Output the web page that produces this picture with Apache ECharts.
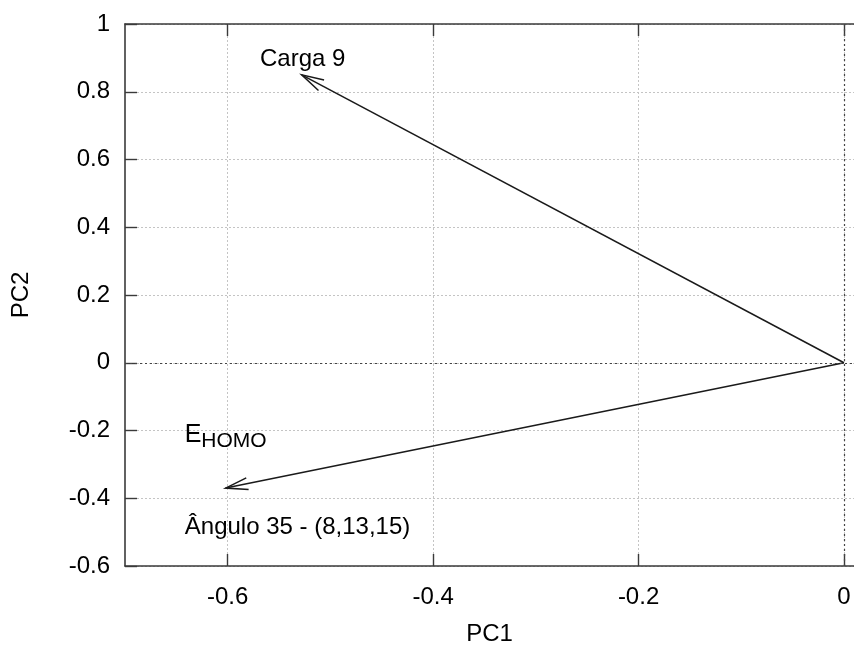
<!DOCTYPE html>
<html>
<head>
<meta charset="utf-8">
<script src="https://cdn.jsdelivr.net/npm/echarts@6/dist/echarts.min.js"></script>
<style>
  html, body { margin: 0; padding: 0; background: #fff; }
  #main { width: 854px; height: 651px; }
</style>
</head>
<body>
<div id="main"></div>
<script>
// loading vectors, drawn from the origin
var origin = [0, 0];
var vecNames = ['Carga 9', 'Ângulo 35 - (8,13,15)'];
var pc1 = [-0.528, -0.602];
var pc2 = [0.85, -0.37];

// text labels placed in data coordinates
var labelTexts = ['Carga 9', '{e|E}{sub|HOMO}', 'Ângulo 35 - (8,13,15)'];
var labelX = [-0.527, -0.602, -0.532];
var labelY = [0.897, -0.215, -0.485];

var xTicks = [-0.6, -0.4, -0.2, 0];
var font = "'Liberation Sans', Arial, sans-serif";

var myChart = echarts.init(document.getElementById('main'));

var vecData = pc1.map(function (x, i) {
    return { name: vecNames[i], value: [x, pc2[i]] };
});
var labelData = labelTexts.map(function (t, i) {
    return { name: t, value: [labelX[i], labelY[i]] };
});

var gridLine = { show: true, lineStyle: { color: '#c4c4c4', type: [2, 2], width: 1 } };
var axisLine = { show: true, onZero: false, lineStyle: { color: '#3a3a3a', width: 1.6 } };

option = {
    backgroundColor: '#fff',
    animation: false,
    grid: { left: 125, right: 0, top: 24, bottom: 84 },
    xAxis: [{
        type: 'value',
        min: -0.7,
        max: 10 / 1025,
        position: 'bottom',
        name: 'PC1',
        nameLocation: 'middle',
        nameGap: 56,
        nameTextStyle: { fontFamily: font, fontSize: 24, color: '#000' },
        axisLine: axisLine,
        axisTick: { show: true, inside: true, length: 12, customValues: xTicks,
            lineStyle: { color: '#3a3a3a', width: 1.4 } },
        axisLabel: { customValues: xTicks, margin: 19, fontFamily: font, fontSize: 24, color: '#000',
            formatter: function (v) { return String(Math.round(v * 10) / 10); } },
        splitLine: gridLine
    }, {
        type: 'value',
        min: -0.7,
        max: 10 / 1025,
        position: 'top',
        axisLine: axisLine,
        axisTick: { show: true, inside: true, length: 12, customValues: xTicks,
            lineStyle: { color: '#3a3a3a', width: 1.4 } },
        axisLabel: { show: false },
        splitLine: { show: false }
    }],
    yAxis: {
        type: 'value',
        min: -0.6,
        max: 1,
        interval: 0.2,
        name: 'PC2',
        nameLocation: 'middle',
        nameGap: 92,
        nameTextStyle: { fontFamily: font, fontSize: 24, color: '#000' },
        axisLine: axisLine,
        axisTick: { show: true, inside: true, length: 12, lineStyle: { color: '#3a3a3a', width: 1.4 } },
        axisLabel: { margin: 15, fontFamily: font, fontSize: 24, color: '#000',
            formatter: function (v) { return String(Math.round(v * 10) / 10); } },
        splitLine: gridLine
    },
    series: [{
        type: 'custom',
        name: 'loadings',
        xAxisIndex: 0,
        data: vecData,
        silent: true,
        markLine: {
            silent: true,
            symbol: 'none',
            label: { show: false },
            lineStyle: { color: '#444', type: [2, 3], width: 1.2 },
            data: [{ yAxis: 0 }, { xAxis: 0 }]
        },
        renderItem: function (params, api) {
            var p0 = api.coord(origin);
            var p1 = api.coord([api.value(0), api.value(1)]);
            var ang = Math.atan2(p0[1] - p1[1], p0[0] - p1[0]);
            var len = 23, half = 15 * Math.PI / 180;
            var a1 = [p1[0] + len * Math.cos(ang - half), p1[1] + len * Math.sin(ang - half)];
            var a2 = [p1[0] + len * Math.cos(ang + half), p1[1] + len * Math.sin(ang + half)];
            var style = { stroke: '#1a1a1a', lineWidth: 1.5, fill: null };
            return {
                type: 'group',
                children: [
                    { type: 'line', shape: { x1: p0[0], y1: p0[1], x2: p1[0], y2: p1[1] }, style: style },
                    { type: 'polyline', shape: { points: [a1, p1, a2] }, style: style }
                ]
            };
        }
    }, {
        type: 'custom',
        name: 'labels',
        xAxisIndex: 0,
        data: labelData,
        silent: true,
        renderItem: function (params, api) {
            var p = api.coord([api.value(0), api.value(1)]);
            return {
                type: 'text',
                x: p[0],
                y: p[1],
                style: {
                    text: labelTexts[params.dataIndex],
                    fill: '#000',
                    font: '24px ' + font,
                    align: 'center',
                    verticalAlign: 'middle',
                    rich: {
                        e: { fontFamily: font, fontSize: 25, fill: '#000' },
                        sub: { fontFamily: font, fontSize: 21, fill: '#000', padding: [12, 0, 0, 0] }
                    }
                }
            };
        }
    }]
};

myChart.setOption(option);
</script>
</body>
</html>
